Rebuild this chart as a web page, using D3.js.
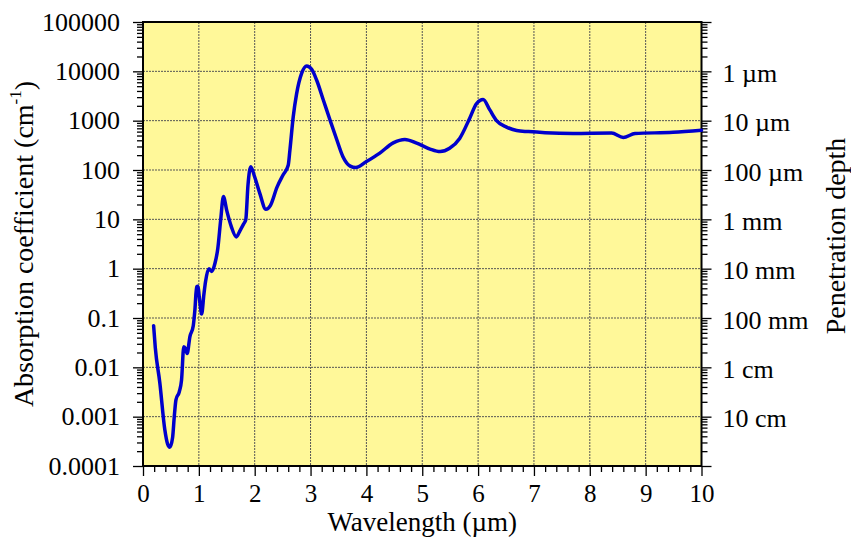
<!DOCTYPE html>
<html>
<head>
<meta charset="utf-8">
<script src="https://cdn.jsdelivr.net/npm/d3@7"></script>
<style>
  html, body { margin: 0; padding: 0; background: #ffffff; }
  svg { display: block; }
</style>
</head>
<body>
<svg id="chart" width="851" height="537" font-family="'Liberation Serif', serif"></svg>
<script>
// ---- data ----
const wavelength = [0.19,0.22,0.30,0.39,0.44,0.48,0.53,0.56,0.59,0.65,0.69,0.73,0.76,0.79,0.84,0.90,0.93,0.96,0.98,1.02,1.05,1.09,1.12,1.18,1.23,1.29,1.34,1.39,1.44,1.50,1.58,1.67,1.74,1.80,1.84,1.88,1.93,2.00,2.09,2.20,2.28,2.40,2.51,2.60,2.63,2.69,2.75,2.84,2.93,3.02,3.11,3.23,3.35,3.47,3.58,3.71,3.81,4.00,4.24,4.48,4.69,4.90,5.14,5.32,5.49,5.67,5.85,5.97,6.09,6.21,6.33,6.51,6.69,6.90,7.20,7.70,8.39,8.60,8.81,9.49,10.0];
const absorption = [0.07,0.025,0.005,0.00055,0.00028,0.00024,0.00038,0.0010,0.0022,0.0032,0.0055,0.026,0.024,0.019,0.042,0.07,0.15,0.43,0.44,0.2,0.12,0.3,0.55,1.0,0.88,1.3,2.6,9.5,29,15,7.2,4.4,6,8,9.8,50,117,72,34,16,19,45,80,125,250,1200,3500,9100,12900,11000,6600,2600,1020,410,186,120,112,148,220,355,417,350,265,236,275,437,1120,2200,2700,1650,1000,740,630,600,570,550,560,457,550,580,640];

const xTicks = [0,1,2,3,4,5,6,7,8,9,10];
const yTicks = [1e-4,1e-3,1e-2,1e-1,1,10,100,1000,1e4,1e5];
const yTickLabels = ["0.0001","0.001","0.01","0.1","1","10","100","1000","10000","100000"];
const depthTicks = [1e4,1e3,100,10,1,0.1,0.01,0.001];
const depthLabels = ["1 \u00b5m","10 \u00b5m","100 \u00b5m","1 mm","10 mm","100 mm","1 cm","10 cm"];

// ---- layout ----
const FONT = "'Liberation Serif', serif";
(function(){ const c = document.createElement("canvas").getContext("2d"); c.font = "26px " + FONT; c.measureText("Wavelength 0123456789 \u00b5m"); })();

const svg = d3.select("#chart");
const L = 143, R = 701.5, T = 22, B = 466;

const x = d3.scaleLinear().domain([0,10]).range([L,R]);
const y = d3.scaleLog().domain([1e-4,1e5]).range([B,T]);

// background
svg.append("rect").attr("x",L).attr("y",T).attr("width",R-L).attr("height",B-T).attr("fill","#FFF899");

// grid
const grid = svg.append("g").attr("stroke","#555").attr("stroke-width",1).attr("stroke-dasharray","2,1");
grid.selectAll("line.gx").data(xTicks.slice(1,-1)).join("line")
  .attr("x1",d=>x(d)).attr("x2",d=>x(d)).attr("y1",T).attr("y2",B);
grid.selectAll("line.gy").data(yTicks.slice(1,-1)).join("line")
  .attr("y1",d=>y(d)).attr("y2",d=>y(d)).attr("x1",L).attr("x2",R);

// minor tick values
const yMinor = [];
for (let e=-4; e<5; e++) for (let m=2; m<=9; m++) yMinor.push(m*Math.pow(10,e));
const xMinor = [];
for (let i=0; i<=50; i++) if (i%5!==0) xMinor.push(i/5);

function style(size){
  return g => {
    g.attr("font-family",FONT);
    g.selectAll(".domain").remove();
    g.selectAll("line").attr("stroke","#000").attr("stroke-width",1.3);
    g.selectAll("text").attr("font-family",FONT).attr("font-size",size).attr("fill","#000");
  };
}

// left axis
svg.append("g").attr("transform",`translate(${L},0)`)
  .call(d3.axisLeft(y).tickValues(yMinor).tickSize(6).tickFormat(""))
  .call(style(26));
svg.append("g").attr("transform",`translate(${L},0)`)
  .call(d3.axisLeft(y).tickValues(yTicks).tickSize(10).tickPadding(13)
    .tickFormat((d,i)=>yTickLabels[i]))
  .call(style(26));

// right axis
svg.append("g").attr("transform",`translate(${R},0)`)
  .call(d3.axisRight(y).tickValues(yMinor).tickSize(6).tickFormat(""))
  .call(style(26));
svg.append("g").attr("transform",`translate(${R},0)`)
  .call(d3.axisRight(y).tickValues(yTicks).tickSize(10).tickFormat(""))
  .call(style(26));
svg.append("g").attr("transform",`translate(${R},2)`)
  .call(d3.axisRight(y).tickValues(depthTicks).tickSize(0).tickPadding(21)
    .tickFormat((d,i)=>depthLabels[i]))
  .call(style(26));

// bottom axis
svg.append("g").attr("transform",`translate(0,${B})`)
  .call(d3.axisBottom(x).tickValues(xMinor).tickSize(6).tickFormat(""))
  .call(style(25));
svg.append("g").attr("transform",`translate(0,${B})`)
  .call(d3.axisBottom(x).tickValues(xTicks).tickSize(10).tickPadding(8).tickFormat(d3.format("d")))
  .call(style(25));

// frame
svg.append("rect").attr("x",L).attr("y",T).attr("width",R-L).attr("height",B-T)
  .attr("fill","none").attr("stroke","#000").attr("stroke-width",2);

// curve
const line = d3.line().x((d,i)=>x(wavelength[i])).y(d=>y(d)).curve(d3.curveMonotoneX);
svg.append("path").datum(absorption).attr("d",line)
  .attr("fill","none").attr("stroke","#0000CC").attr("stroke-width",3.5)
  .attr("stroke-linejoin","round").attr("stroke-linecap","round");

// titles
svg.append("text").attr("x",(L+R)/2).attr("y",530.5).attr("text-anchor","middle")
  .attr("font-family",FONT).attr("font-size",27).text("Wavelength (\u00b5m)");

const yt = svg.append("text").attr("transform",`translate(33,${(T+B)/2}) rotate(-90)`)
  .attr("text-anchor","middle").attr("font-family",FONT).attr("font-size",28);
yt.append("tspan").text("Absorption coefficient (cm");
yt.append("tspan").attr("font-size",17).attr("dy","-0.7em").text("-1");
yt.append("tspan").attr("dy","0.45em").text(")");

svg.append("text").attr("transform",`translate(845,236) rotate(-90)`)
  .attr("text-anchor","middle").attr("font-family",FONT).attr("font-size",28).text("Penetration depth");
</script>
</body>
</html>
